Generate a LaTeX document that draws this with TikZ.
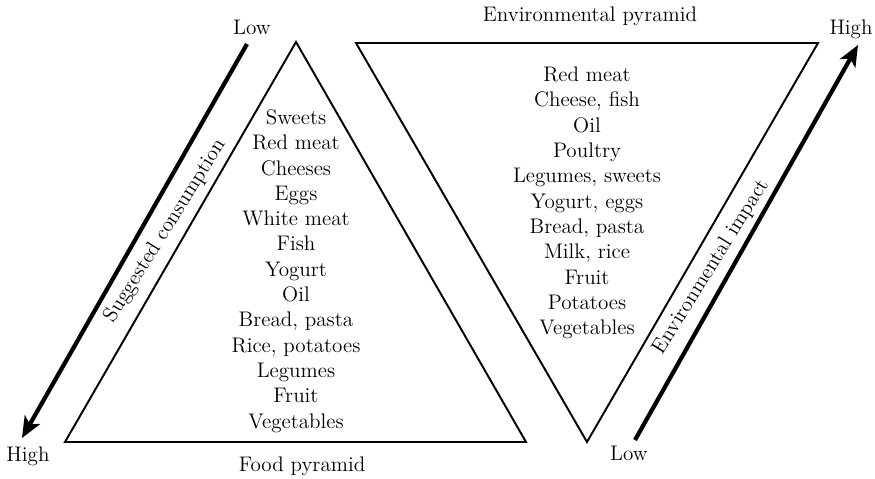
\documentclass[tikz,border=0pt]{standalone}
\usetikzlibrary{arrows.meta}

\begin{document}
\begin{tikzpicture}[x=0.02cm, y=-0.02cm,
        side/.style={line width=1.1pt, line join=miter},
        scalearrow/.style={line width=2.4pt, -{Stealth[length=12pt, width=10pt, inset=3pt]}},
        lbl/.style={font=\fontsize{12}{14.4}\selectfont, inner sep=1pt},
        foodlist/.style={lbl, align=center}]
        \useasboundingbox (0,0) rectangle (875,479);

        % corners of the two pyramids
        \coordinate (fTop) at (296, 42);
        \coordinate (fLeft) at (65, 442);
        \coordinate (fRight) at (526, 442);

        \coordinate (eLeft) at (356, 43);
        \coordinate (eRight) at (818, 43);
        \coordinate (eBot) at (587, 442);

        % ends of the two scale arrows
        \coordinate (cStart) at (247, 44);
        \coordinate (cEnd) at (22, 438);
        \coordinate (iStart) at (635, 440);
        \coordinate (iEnd) at (858, 45);

        \draw[side] (fTop) -- (fLeft) -- (fRight) -- cycle;
        \draw[side] (eLeft) -- (eRight) -- (eBot) -- cycle;

        \draw[scalearrow] (cStart) -- (cEnd);
        \draw[scalearrow] (iStart) -- (iEnd);

        \node[lbl] (cLow) at (252, 27) {Low};
        \node[lbl] (cHigh) at (28, 456) {High};
        \node[lbl] (iHigh) at (851, 29) {High};
        \node[lbl] (iLow) at (629, 453) {Low};

        \node[lbl] (fTitle) at (302, 466) {Food pyramid};
        \node[lbl] (eTitle) at (590, 16) {Environmental pyramid};

        \node[lbl, rotate=58] (cLabel) at (165, 231) {Suggested consumption};
        \node[lbl, rotate=58] (iLabel) at (711, 267) {Environmental impact};

        \node[foodlist] (fList) at (296, 271) {Sweets\\ Red meat\\ Cheeses\\ Eggs\\ White meat\\ Fish\\ Yogurt\\ Oil\\ Bread, pasta\\ Rice, potatoes\\ Legumes\\ Fruit\\ Vegetables};
        \node[foodlist] (eList) at (587, 203) {Red meat\\ Cheese, fish\\ Oil\\ Poultry\\ Legumes, sweets\\ Yogurt, eggs\\ Bread, pasta\\ Milk, rice\\ Fruit\\ Potatoes\\ Vegetables};
    \end{tikzpicture}
\end{document}
